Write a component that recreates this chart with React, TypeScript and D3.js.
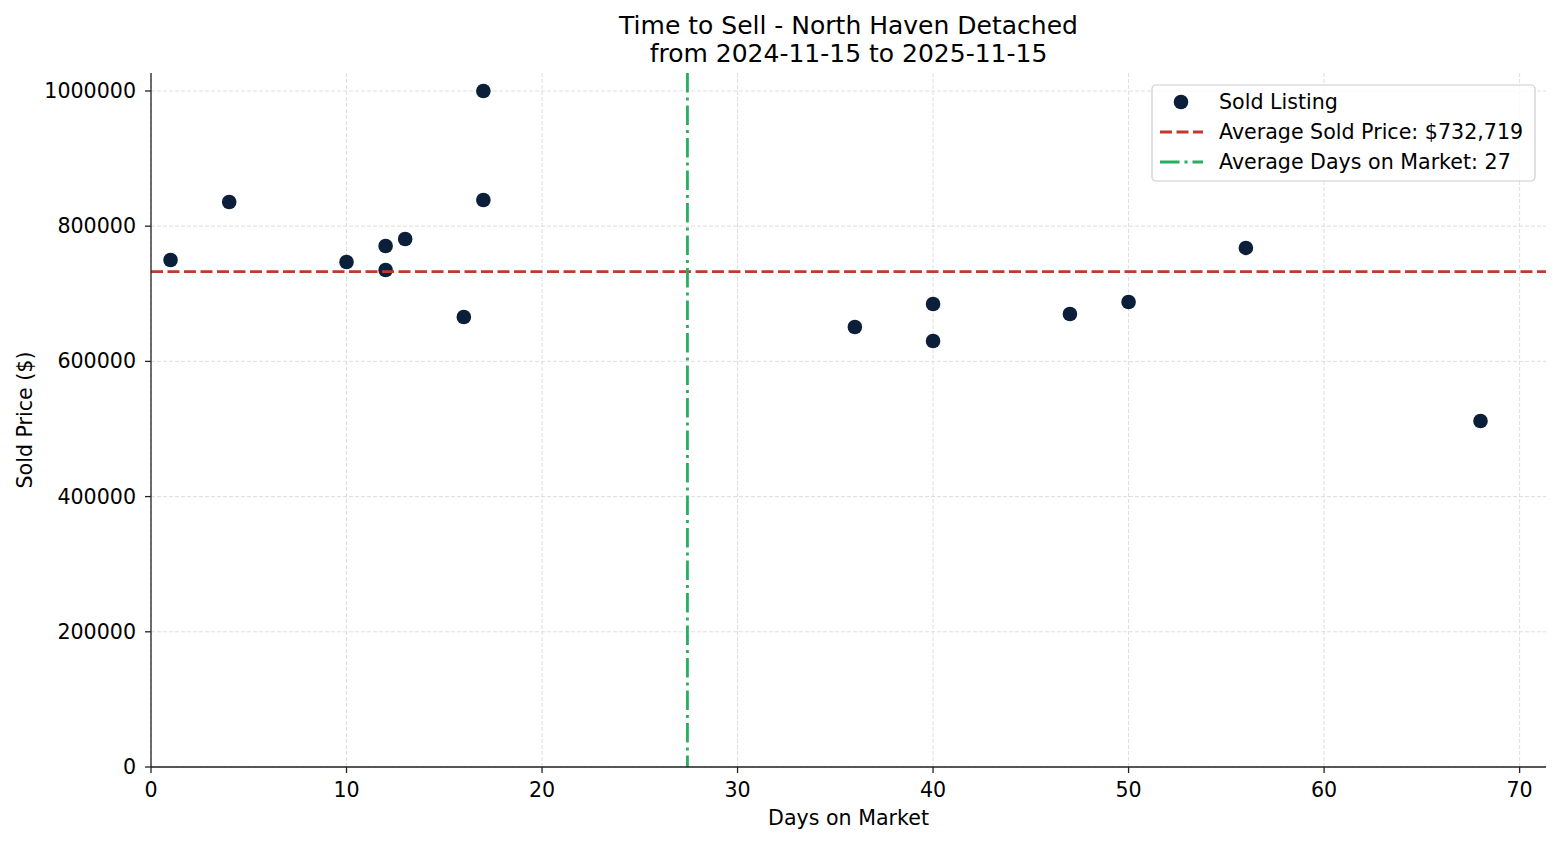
import React from "react";
import * as d3 from "d3";

const days = [1, 4, 10, 12, 12, 13, 16, 17, 17, 36, 40, 40, 47, 50, 56, 68];
const prices = [750000, 835800, 747000, 770700, 735200, 781000, 665700, 1000000, 838700, 650900, 684900, 630200, 670100, 687900, 767800, 511800];
const xTicks = [0, 10, 20, 30, 40, 50, 60, 70];
const yTicks = [0, 200000, 400000, 600000, 800000, 1000000];
const titleLines = ["Time to Sell - North Haven Detached", "from 2024-11-15 to 2025-11-15"];
const avgPrice = 732719;
const avgDays = d3.mean(days) as number;

const W = 1560, H = 845;
const L = 151, R = 1546, T = 73, B = 767;
const FONT = "DejaVu Sans, sans-serif";
const FS = 20.6;
const RED_DASH = "12,4.5";
const GREEN_DASH = "19.5,5,3,5";

export default function App() {
  const x = d3.scaleLinear().domain([0, 71.35]).range([L, R]);
  const y = d3.scaleLinear().domain([0, 1026600]).range([B, T]);
  const navy = "#0b1f3a";
  const red = "#c0392b";
  const green = "#27ae60";
  return (
    <svg width={W} height={H} style={{ position: "absolute", left: 0, top: 0, background: "#fff" }} fontFamily={FONT}>
      <rect width={W} height={H} fill="#fff" />
      {xTicks.map((t) => (
        <line key={"gx" + t} x1={x(t)} x2={x(t)} y1={T} y2={B} stroke="#d6d6d6" strokeWidth={0.8} strokeDasharray="4,2" />
      ))}
      {yTicks.map((t) => (
        <line key={"gy" + t} x1={L} x2={R} y1={y(t)} y2={y(t)} stroke="#d6d6d6" strokeWidth={0.8} strokeDasharray="4,2" />
      ))}
      {days.map((d, i) => (
        <circle key={i} cx={x(d)} cy={y(prices[i])} r={7.3} fill={navy} />
      ))}
      <line x1={L} x2={R} y1={y(avgPrice)} y2={y(avgPrice)} stroke={red} strokeWidth={2.8} strokeDasharray={RED_DASH} />
      <line x1={x(avgDays)} x2={x(avgDays)} y1={T} y2={B} stroke={green} strokeWidth={2.8} strokeDasharray={GREEN_DASH} />
      <line x1={L} x2={L} y1={T} y2={B} stroke="#222" strokeWidth={1.3} />
      <line x1={L} x2={R} y1={B} y2={B} stroke="#222" strokeWidth={1.3} />
      {xTicks.map((t) => (
        <g key={"tx" + t}>
          <line x1={x(t)} x2={x(t)} y1={B} y2={B + 6} stroke="#222" strokeWidth={1.3} />
          <text x={x(t)} y={797} textAnchor="middle" fontSize={FS}>{t}</text>
        </g>
      ))}
      {yTicks.map((t) => (
        <g key={"ty" + t}>
          <line x1={L - 6} x2={L} y1={y(t)} y2={y(t)} stroke="#222" strokeWidth={1.3} />
          <text x={L - 15} y={y(t)} textAnchor="end" dominantBaseline="central" fontSize={FS}>{t}</text>
        </g>
      ))}
      <text x={(L + R) / 2} y={825} textAnchor="middle" fontSize={FS}>Days on Market</text>
      <text transform={`translate(32,${(T + B) / 2}) rotate(-90)`} textAnchor="middle" fontSize={FS}>Sold Price ($)</text>
      {titleLines.map((s, i) => (
        <text key={s} x={(L + R) / 2} y={34 + i * 28} textAnchor="middle" fontSize={25}>{s}</text>
      ))}
      <g>
        <rect x={1152} y={85} width={383} height={96} rx={4} fill="#fff" fillOpacity={0.8} stroke="#ccc" strokeWidth={1.2} />
        <circle cx={1181} cy={102} r={7.3} fill={navy} />
        <text x={1219} y={102} dominantBaseline="central" fontSize={FS}>Sold Listing</text>
        <line x1={1160} x2={1203} y1={132} y2={132} stroke={red} strokeWidth={2.8} strokeDasharray={RED_DASH} />
        <text x={1219} y={132} dominantBaseline="central" fontSize={FS}>{`Average Sold Price: $${d3.format(",")(avgPrice)}`}</text>
        <line x1={1160} x2={1203} y1={162} y2={162} stroke={green} strokeWidth={2.8} strokeDasharray={GREEN_DASH} />
        <text x={1219} y={162} dominantBaseline="central" fontSize={FS}>{`Average Days on Market: ${Math.floor(avgDays)}`}</text>
      </g>
    </svg>
  );
}
